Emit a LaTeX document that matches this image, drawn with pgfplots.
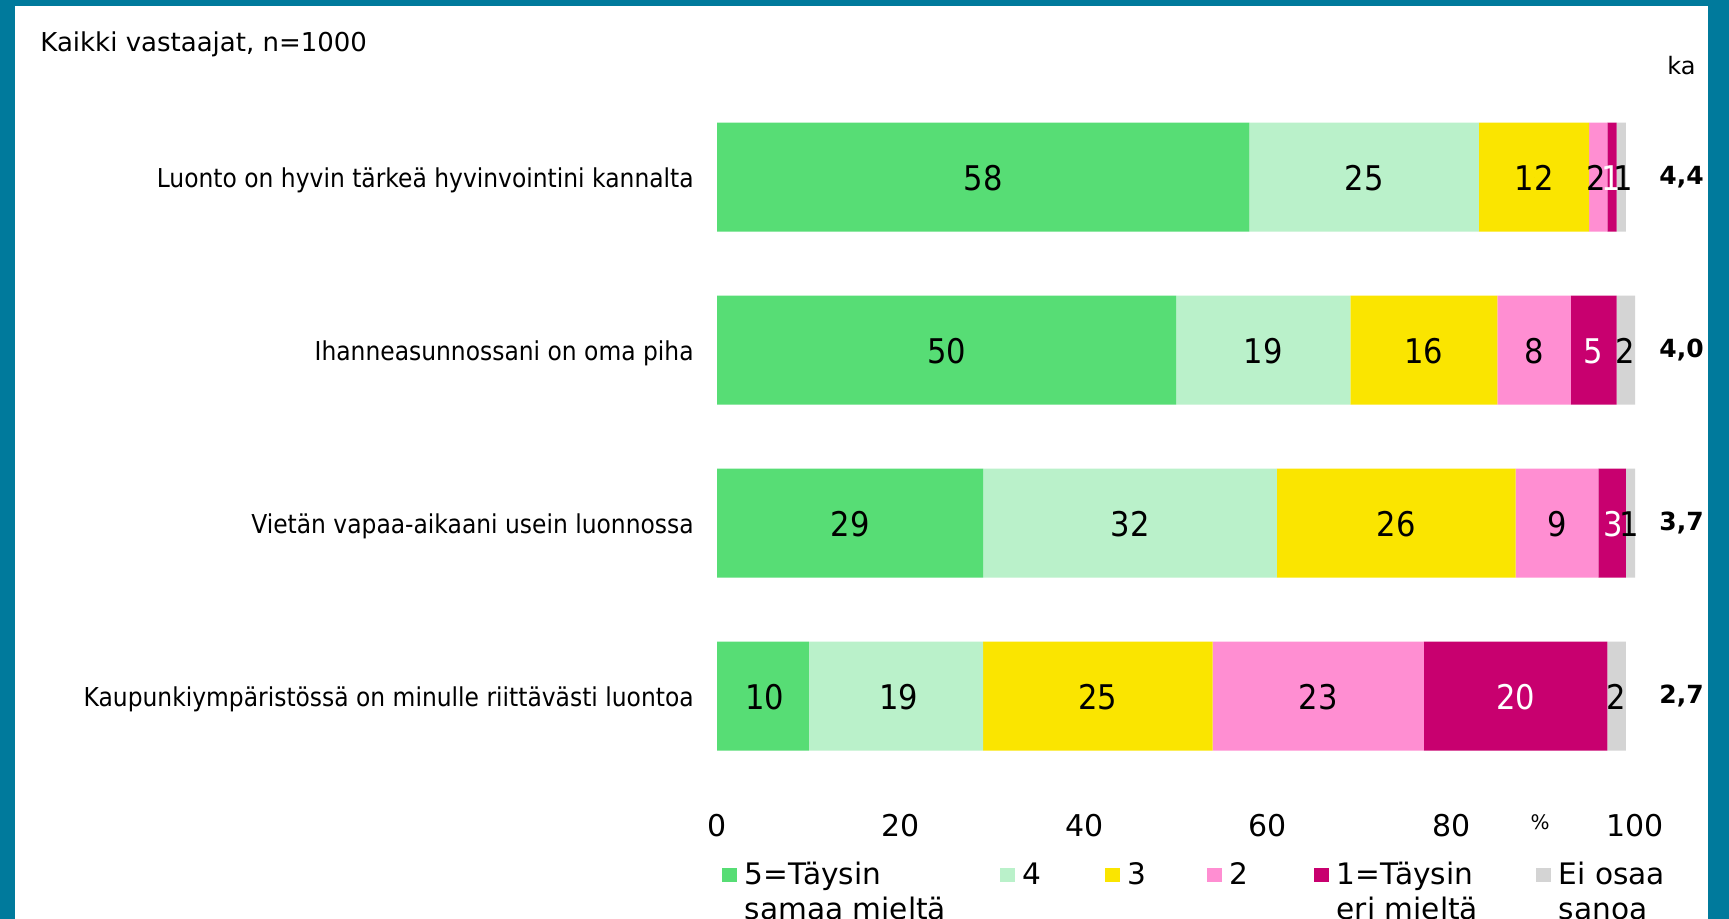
\documentclass[border=0pt]{standalone}
\usepackage{pgfplots}
\pgfplotsset{compat=1.18}
\usepackage{fontspec}
\setmainfont{DejaVu Sans}
\newfontfamily\catfont[FakeStretch=0.9]{DejaVu Sans}
\newfontfamily\numfont[FakeStretch=0.9]{DejaVu Sans}
\definecolor{frameteal}{HTML}{007A9C}
\definecolor{cA}{HTML}{57DD75}
\definecolor{cB}{HTML}{BAF1CA}
\definecolor{cC}{HTML}{FAE500}
\definecolor{cD}{HTML}{FF8ED2}
\definecolor{cE}{HTML}{C8006F}
\definecolor{cF}{HTML}{D4D4D4}
\pgfplotsset{sqleg/.style={legend image code/.code={\fill[##1] (0pt,-3.6pt) rectangle (7.2pt,3.6pt);}}}
\newcommand{\legtwo}[3]{\makebox[#1][l]{\makebox[0pt][l]{\raisebox{-17.5pt}[0pt][0pt]{#3}}#2}}
\begin{document}
\begin{tikzpicture}[x=1pt,y=1pt]
\useasboundingbox (0,0) rectangle (864.5,459.5);
\fill[frameteal] (0,0) rectangle (864.5,459.5);
\fill[white] (7.5,0) rectangle (854,456.5);
\clip (0,0) rectangle (864.5,459.5);
\node[anchor=west, inner sep=0pt] at (20,437.5) {\fontsize{13}{15}\selectfont Kaikki vastaajat, n=1000};
\node[inner sep=0pt] at (840.7,426.5) {\fontsize{12}{14}\selectfont ka};
\node[inner sep=0pt] at (770,48.5) {\fontsize{10}{12}\selectfont \%};
\begin{axis}[
  at={(358.5pt,68.25pt)}, anchor=south west,
  scale only axis, width=459pt, height=346pt,
  xbar stacked, bar width=54.5pt,
  xmin=0, xmax=100, ymin=-0.5, ymax=3.5, y dir=reverse,
  axis line style={draw=none}, major tick length=0pt,
  ytick={0,1,2,3},
  yticklabels={Luonto on hyvin tärkeä hyvinvointini kannalta, Ihanneasunnossani on oma piha, Vietän vapaa-aikaani usein luonnossa, Kaupunkiympäristössä on minulle riittävästi luontoa},
  xtick={0,20,40,60,80,100},
  /pgf/number format/assume math mode=true,
  tick label style={inner sep=0pt},
  yticklabel style={anchor=east, xshift=-11.5pt, yshift=-1.5pt, font=\catfont\fontsize{13}{15}\selectfont},
  xticklabel style={anchor=center, yshift=-21.5pt, font=\fontsize{15}{17}\selectfont},
  every axis plot post/.append style={sqleg},
  legend columns=6, legend cell align=left,
  legend style={at={(0.0054,-0.1335)}, anchor=west, draw=none, fill=none, inner sep=0pt,
    font=\fontsize{14.8}{17}\selectfont, nodes={inner sep=0pt},
    /tikz/every odd column/.append style={column sep=4pt},
    /tikz/every even column/.append style={column sep=0pt}},
]
\addplot[fill=cA, draw=none] coordinates {(58,0) (50,1) (29,2) (10,3)};
\addplot[fill=cB, draw=none] coordinates {(25,0) (19,1) (32,2) (19,3)};
\addplot[fill=cC, draw=none] coordinates {(12,0) (16,1) (26,2) (25,3)};
\addplot[fill=cD, draw=none] coordinates {(2,0) (8,1) (9,2) (23,3)};
\addplot[fill=cE, draw=none] coordinates {(1,0) (5,1) (3,2) (20,3)};
\addplot[fill=cF, draw=none] coordinates {(1,0) (2,1) (1,2) (2,3)};
\addlegendentry{\legtwo{127.8pt}{5=Täysin}{samaa mieltä}}
\addlegendentry{\makebox[41.3pt][l]{4}}
\addlegendentry{\makebox[39.8pt][l]{3}}
\addlegendentry{\makebox[42.3pt][l]{2}}
\addlegendentry{\legtwo{99.8pt}{1=Täysin}{eri mieltä}}
\addlegendentry{\legtwo{60pt}{Ei osaa}{sanoa}}
\end{axis}
\begin{axis}[
  at={(358.5pt,68.25pt)}, anchor=south west,
  scale only axis, width=459pt, height=346pt,
  xmin=0, xmax=100, ymin=-0.5, ymax=3.5, y dir=reverse,
  hide axis, clip=false,
]
\addplot[only marks, mark=*, mark size=0pt, mark options={draw=none, fill=none},
  nodes near coords, point meta=explicit symbolic,
  nodes near coords style={anchor=center, inner sep=0pt, yshift=-0.5pt, text=black, font=\numfont\fontsize{17}{19}\selectfont}]
  coordinates {
  (29,0)[58] (70.5,0)[25] (89,0)[12] (95.8,0)[2] (98.7,0)[1]
  (25,1)[50] (59.5,1)[19] (77,1)[16] (89,1)[8] (98.9,1)[2]
  (14.5,2)[29] (45,2)[32] (74,2)[26] (91.5,2)[9] (99.4,2)[1]
  (5.2,3)[10] (19.8,3)[19] (41.5,3)[25] (65.5,3)[23] (98,3)[2]
  };
\addplot[only marks, mark=*, mark size=0pt, mark options={draw=none, fill=none},
  nodes near coords, point meta=explicit symbolic,
  nodes near coords style={anchor=center, inner sep=0pt, yshift=-0.5pt, text=white, font=\numfont\fontsize{17}{19}\selectfont}]
  coordinates {
  (97.4,0)[1] (95.4,1)[5] (97.6,2)[3] (87,3)[20]
  };
\addplot[only marks, mark=*, mark size=0pt, mark options={draw=none, fill=none},
  nodes near coords, point meta=explicit symbolic,
  nodes near coords style={anchor=center, inner sep=0pt, text=black, font=\bfseries\fontsize{12.5}{15}\selectfont}]
  coordinates {
  (105.07,0)[{4,4}] (105.07,1)[{4,0}] (105.07,2)[{3,7}] (105.07,3)[{2,7}]
  };
\end{axis}
\end{tikzpicture}
\end{document}
